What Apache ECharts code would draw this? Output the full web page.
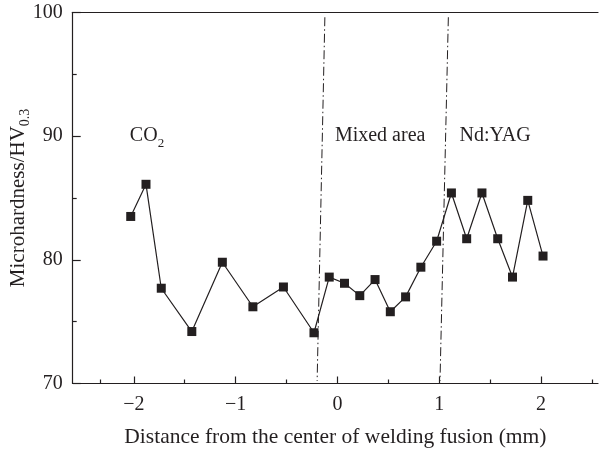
<!DOCTYPE html>
<html>
<head>
<meta charset="utf-8">
<script src="https://cdn.jsdelivr.net/npm/echarts@6/dist/echarts.min.js"></script>
<style>
  html, body { margin: 0; padding: 0; background: #fff; }
  #chart { width: 600px; height: 452px; }
</style>
</head>
<body>
<div id="chart"></div>
<script>
// distance from the center of welding fusion (mm)
const distance = [-2.03, -1.88, -1.73, -1.43, -1.13, -0.83, -0.53, -0.23, -0.08, 0.07,
  0.22, 0.37, 0.52, 0.67, 0.82, 0.975, 1.12, 1.27, 1.42, 1.575, 1.72, 1.87, 2.02];
// microhardness HV0.3
const hardness = [83.5, 86.1, 77.7, 74.2, 79.8, 76.2, 77.8, 74.1, 78.6, 78.1,
  77.1, 78.4, 75.8, 77.0, 79.4, 81.5, 85.4, 81.7, 85.4, 81.7, 78.6, 84.8, 80.3];

// zone boundaries (dash-dot), [x, y] end points
const boundaryLeft = [[-0.123, 99.6], [-0.199, 70.2]];
const boundaryRight = [[1.09, 99.6], [1.008, 70.2]];

// zone labels
const zoneNames = ["{m|CO}{s|2}", "{m|Mixed area}", "{m|Nd:YAG}"];
const zoneX = [-1.87, 0.42, 1.55];
const zoneY = [90, 90, 90];

const xTickLabels = [-2, -1, 0, 1, 2];
const xMinorTicks = [-2.33, -1.5, -0.5, 0.5, 1.5, 2.5];

const ink = "#231f20";
const font = "Liberation Serif";

const chart = echarts.init(document.getElementById("chart"));

const richText = {
  m: { fontFamily: font, fontSize: 20, color: ink, lineHeight: 28, verticalAlign: "middle" },
  s: { fontFamily: font, fontSize: 13, color: ink, lineHeight: 13, verticalAlign: "bottom" }
};
const richName = {
  m: { fontFamily: font, fontSize: 21, color: ink, lineHeight: 28, verticalAlign: "middle" },
  s: { fontFamily: font, fontSize: 14, color: ink, lineHeight: 14, verticalAlign: "bottom" }
};

const pts = distance.map((d, i) => [d, hardness[i]]);
const zones = zoneNames.map((n, i) => ({ value: [zoneX[i], zoneY[i]], name: n }));

chart.setOption({
  animation: false,
  grid: { left: 72.7, right: 2, top: 12.3, bottom: 68.5, containLabel: false, outerBoundsMode: "none" },
  xAxis: [
    {
      type: "value",
      min: -2.6,
      max: 2.56,
      name: "Distance from the center of welding fusion (mm)",
      nameLocation: "middle",
      nameGap: 43,
      nameTextStyle: { fontFamily: font, fontSize: 21.5, color: ink },
      splitLine: { show: false },
      axisLine: { onZero: false, lineStyle: { color: ink, width: 1.2 } },
      axisTick: { inside: true, length: 7, customValues: xTickLabels, lineStyle: { color: ink, width: 1.2 } },
      axisLabel: {
        customValues: xTickLabels,
        margin: 11,
        fontFamily: font,
        fontSize: 20,
        color: ink,
        formatter: v => String(v).replace("-", "\u2212")
      }
    },
    {
      type: "value",
      min: -2.6,
      max: 2.56,
      position: "bottom",
      splitLine: { show: false },
      axisLine: { show: false, onZero: false },
      axisLabel: { show: false },
      axisTick: { inside: true, length: 4, customValues: xMinorTicks, lineStyle: { color: ink, width: 1.2 } }
    },
    {
      type: "value",
      min: -2.6,
      max: 2.56,
      position: "top",
      splitLine: { show: false },
      axisLine: { onZero: false, lineStyle: { color: ink, width: 1.2 } },
      axisLabel: { show: false },
      axisTick: { show: false }
    }
  ],
  yAxis: {
    type: "value",
    min: 70,
    max: 100,
    interval: 10,
    name: "{m|Microhardness/HV}{s|0.3}",
    nameLocation: "middle",
    nameGap: 40,
    nameMoveOverlap: false,
    nameRotate: 90,
    nameTextStyle: { rich: richName },
    splitLine: { show: false },
    axisLine: { onZero: false, lineStyle: { color: ink, width: 1.2 } },
    axisTick: { inside: true, length: 8, lineStyle: { color: ink, width: 1.2 } },
    minorTick: { show: true, splitNumber: 2, length: 4, lineStyle: { color: ink, width: 1.2 } },
    axisLabel: { margin: 10, fontFamily: font, fontSize: 20, color: ink }
  },
  series: [
    {
      type: "line",
      data: boundaryLeft,
      symbol: "none",
      lineStyle: { color: ink, width: 1, type: [9, 3, 1.5, 3] },
      z: 1
    },
    {
      type: "line",
      data: boundaryRight,
      symbol: "none",
      lineStyle: { color: ink, width: 1, type: [9, 3, 1.5, 3] },
      z: 1
    },
    {
      type: "line",
      data: pts,
      symbol: "rect",
      symbolSize: 9,
      itemStyle: { color: ink },
      lineStyle: { color: ink, width: 1.2 },
      z: 3
    },
    {
      type: "scatter",
      data: zones,
      symbolSize: 0,
      itemStyle: { opacity: 1, color: ink },
      label: {
        show: true,
        position: "inside",
        color: ink,
        opacity: 1,
        textBorderWidth: 0,
        formatter: p => p.name,
        rich: richText
      },
      z: 4
    }
  ]
});
</script>
</body>
</html>
